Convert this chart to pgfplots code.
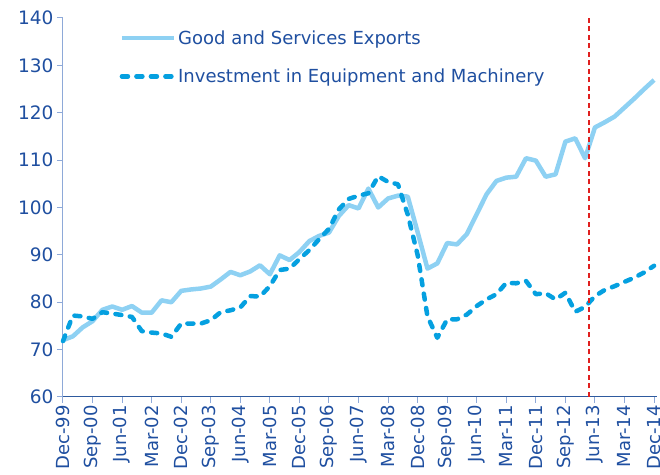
\documentclass[border=0pt]{standalone}
\usepackage{fontspec}
\setmainfont{DejaVu Sans}
\usepackage{pgfplots}
\pgfplotsset{compat=1.18}
\usepackage{pgfplotstable}
\definecolor{txtblue}{HTML}{1F4FA0}
\definecolor{xaxis}{HTML}{2E5A9E}
\definecolor{yaxis}{HTML}{8EA9D8}
\definecolor{expc}{HTML}{8ED1F3}
\definecolor{invc}{HTML}{05A0E0}
\definecolor{redl}{HTML}{E0201F}
\pgfplotstableread{
q exp inv
0 72.0 71.8
1 72.8 77.2
2 74.7 77.0
3 76.0 76.5
4 78.4 77.9
5 79.1 77.6
6 78.4 77.3
7 79.2 76.9
8 77.8 73.9
9 77.8 73.6
10 80.4 73.4
11 80.0 72.7
12 82.4 75.5
13 82.7 75.5
14 82.9 75.5
15 83.3 76.2
16 84.8 77.9
17 86.4 78.3
18 85.7 78.9
19 86.5 81.3
20 87.8 81.2
21 85.9 83.4
22 89.9 86.8
23 88.9 87.1
24 90.6 89.1
25 92.9 91.0
26 94.0 93.3
27 94.7 95.5
28 98.2 99.6
29 100.5 101.8
30 99.8 102.5
31 104.0 103.0
32 100.0 106.6
33 101.9 105.4
34 102.5 104.9
35 102.3 98.5
36 94.8 90.0
37 87.1 77.0
38 88.2 72.5
39 92.5 76.4
40 92.2 76.4
41 94.4 77.4
42 98.6 79.2
43 102.8 80.6
44 105.6 81.7
45 106.3 84.1
46 106.5 84.0
47 110.4 84.5
48 109.9 81.7
49 106.5 81.9
50 107.0 80.6
51 113.9 82.0
52 114.6 78.0
53 110.4 79.0
54 116.9 81.3
55 118.0 82.6
56 119.2 83.4
57 121.1 84.3
58 123.0 85.2
59 125.0 86.3
60 126.9 87.7
}\datatable
\begin{document}
\begin{tikzpicture}
\begin{axis}[
  scale only axis,
  width=594pt, height=379pt,
  xmin=0, xmax=60.3, ymin=60, ymax=140,
  axis x line*=bottom, axis y line*=left,
  x axis line style={xaxis, line width=1pt, -},
  y axis line style={yaxis, line width=1pt, -},
  xtick={0,3,...,60},
  xticklabels={Dec-99,Sep-00,Jun-01,Mar-02,Dec-02,Sep-03,Jun-04,Mar-05,Dec-05,Sep-06,Jun-07,Mar-08,Dec-08,Sep-09,Jun-10,Mar-11,Dec-11,Sep-12,Jun-13,Mar-14,Dec-14},
  ytick={60,70,...,140},
  tick align=outside,
  major tick length=6pt,
  x tick style={yaxis, line width=1pt},
  y tick style={yaxis, line width=1pt},
  xticklabel style={rotate=90, anchor=east, font=\fontsize{18}{20}\selectfont, text=txtblue, inner sep=2pt},
  yticklabel style={font=\fontsize{18.5}{20}\selectfont, text=txtblue},
  /pgf/number format/assume math mode=true,
  clip=false,
  legend style={draw=none, fill=none, at={(0.09,0.978)}, anchor=north west,
    font=\fontsize{18}{20}\selectfont, text=txtblue, row sep=19pt,
    /tikz/every even column/.append style={column sep=4pt}},
  legend cell align=left,
  legend image code/.code={\draw[#1] (0pt,0pt) -- (52pt,0pt);},
]
\addplot[expc, line width=4.5pt, line join=round] table[x=q, y=exp] {\datatable};
\addlegendentry{Good and Services Exports}
\addplot[invc, line width=4.5pt, line cap=round, line join=round, dash pattern=on 6pt off 8.5pt] table[x=q, y=inv] {\datatable};
\addlegendentry{Investment in Equipment and Machinery}
\addplot[redl, line width=1.2pt, dash pattern=on 5pt off 3.5pt, forget plot] coordinates {(53.4,60) (53.4,140)};
\end{axis}
\pgfresetboundingbox
\path ([shift={(-63pt,-78pt)}]current axis.south west) rectangle ([shift={(3pt,18pt)}]current axis.north east);
\end{tikzpicture}
\end{document}
